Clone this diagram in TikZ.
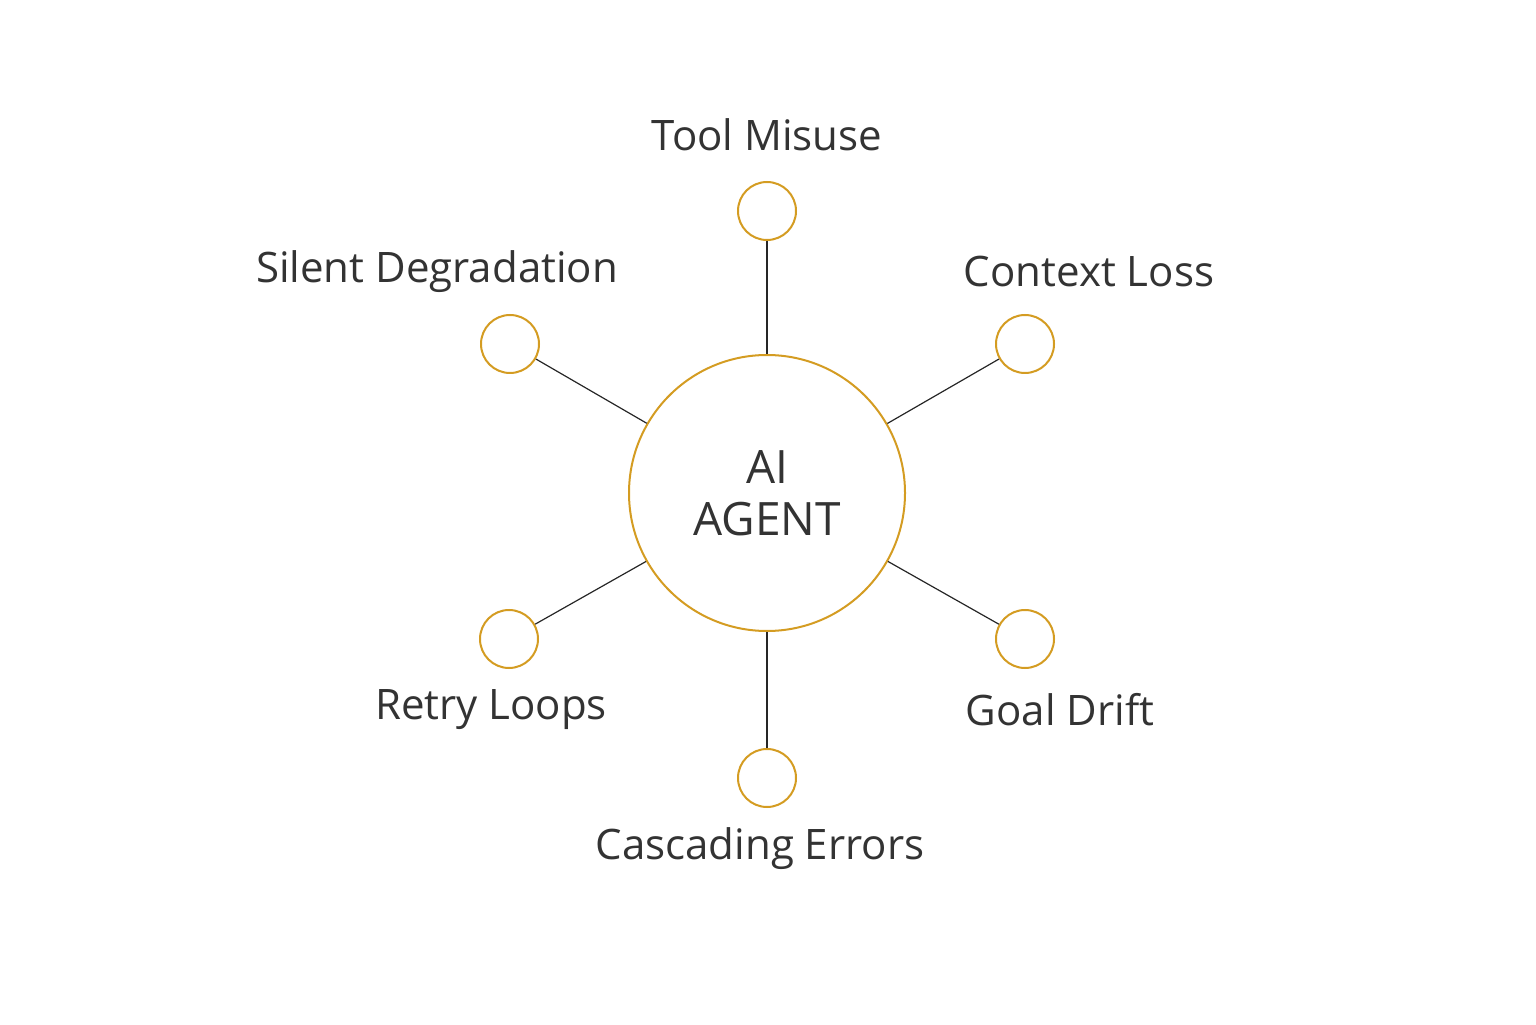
\documentclass[tikz,border=0pt]{standalone}
\usepackage{fontspec}
\setmainfont{Open Sans}
\usetikzlibrary{positioning}
\definecolor{gold}{HTML}{D49C22}
\definecolor{ink}{HTML}{333333}
\tikzset{
  hub/.style={circle, draw=gold, line width=1pt, minimum size=138pt, inner sep=0pt, align=center, text=ink, font=\fontsize{23}{28}\selectfont},
  risk/.style={circle, draw=gold, line width=1pt, minimum size=29pt, inner sep=0pt},
  tag/.style={text=ink, font=\fontsize{21}{25}\selectfont, inner sep=0pt},
  spoke/.style={draw=black!85, line width=0.6pt}
}
\begin{document}
\begin{tikzpicture}[x=0.5pt, y=0.5pt]
  \useasboundingbox (0,0) rectangle (1536,1024);

  \node[hub] (agent) at (767,531) {AI\\[-2pt]AGENT};

  % failure modes around the agent
  \node[risk] (tool)    at (767,813) {};
  \node[risk] (silent)  at (510,680) {};
  \node[risk] (context) at (1025,680) {};
  \node[risk] (retry)   at (509,385) {};
  \node[risk] (goal)    at (1025,385) {};
  \node[risk] (cascade) at (767,246) {};

  \node[tag] (toolL)    at (767,889) {Tool Misuse};
  \node[tag] (silentL)  at (437,752) {Silent Degradation};
  \node[tag] (contextL) at (1089,752) {Context Loss};
  \node[tag] (retryL)   at (491,314) {Retry Loops};
  \node[tag] (goalL)    at (1060,314) {Goal Drift};
  \node[tag] (cascadeL) at (760,175) {Cascading Errors};

  \foreach \n in {tool,silent,context,retry,goal,cascade}
    \draw[spoke] (\n) -- (agent);

\end{tikzpicture}
\end{document}
